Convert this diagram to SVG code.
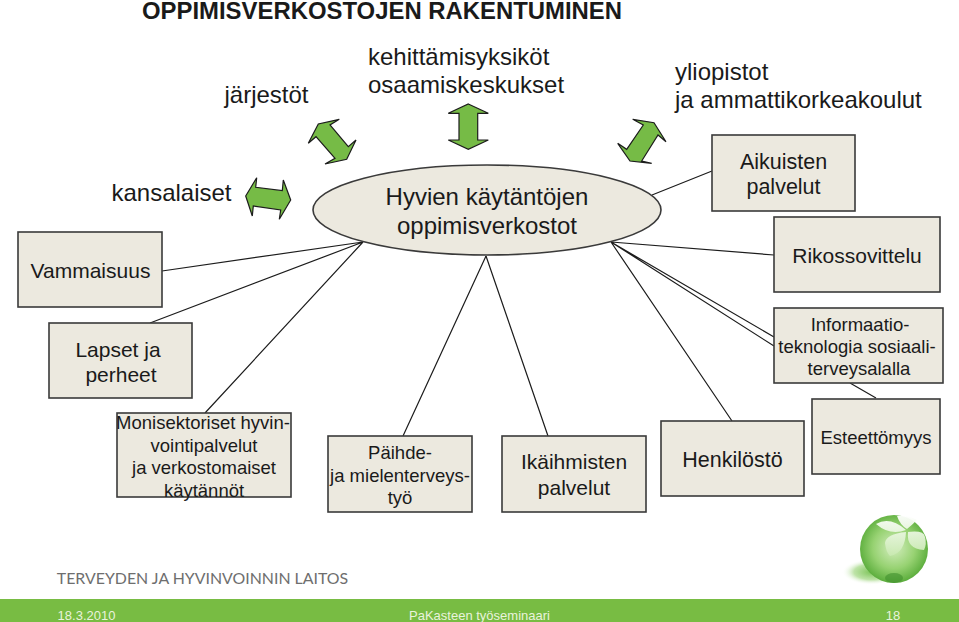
<svg xmlns="http://www.w3.org/2000/svg" width="959" height="622" viewBox="0 0 959 622">
<style>
text{font-family:"Liberation Sans",Arial,sans-serif;fill:#1a1a1a;text-anchor:middle}
.l{font-size:24px}
.st{text-anchor:start}
.m{font-size:21.500px}
.n{font-size:21px}
.s{font-size:18.500px}
.b{fill:#ECE9DF;stroke:#3a3a3a;stroke-width:1.6}
.a{fill:#76BB46;stroke:#1c1c1c;stroke-width:1.2}
.c{fill:none;stroke:#1c1c1c;stroke-width:1.2}
.f{font-size:13px;fill:#E9F3DC}
</style>
<defs>
<radialGradient id="g" cx="0.5" cy="0.48" r="0.56"><stop offset="0" stop-color="#D3EDBE"/><stop offset="0.55" stop-color="#97D272"/><stop offset="0.88" stop-color="#63B243"/><stop offset="1" stop-color="#4E9E33"/></radialGradient>
<radialGradient id="sh" cx="0.6" cy="0.5" r="0.5"><stop offset="0" stop-color="#7CC458"/><stop offset="0.6" stop-color="#BEE3A8"/><stop offset="1" stop-color="#fff" stop-opacity="0"/></radialGradient>
<linearGradient id="lf" x1="0.5" y1="0" x2="0.5" y2="1"><stop offset="0" stop-color="#fff"/><stop offset="1" stop-color="#C8E9B0"/></linearGradient>
</defs>
<rect width="959" height="622" fill="#fff"/>
<g id="connectors">
<path class="c" d="M162 271L363 242M150 323L363 242M205 413L363 242M403 436L486 256M548 436L486 256M732 421L611 242M774 337L611 242M774 346L611 242M774 255L611 242M712 171L652 195M850 383L876 398"/>
</g>
<g id="arrows">
<path id="arrow-left" class="a" d="M245.700 196L256.700 177.700L255.700 187.300L282.300 190.700L283.300 180L290.700 200L279.300 219.300L280.700 210L253.300 206L252.300 216Z"/>
<path id="arrow-upleft" class="a" d="M308.300 143.300L318.300 124L339.300 119.300L330 125L348.300 146.700L356 140L346.700 159.300L325 164L335 158.300L316 136.700Z"/>
<path id="arrow-up" class="a" d="M468.300 104L488.300 113.300L477.700 113.300L477.700 140L488.300 140L468.300 149.300L448.300 140L459 140L459 113.300L448.300 113.300Z"/>
<path id="arrow-upright" class="a" d="M632.700 119.300L654 122.700L666 141.700L658 135L641.700 161L651.700 163.300L630 161L617.700 143.300L626.700 149.300L643.300 125Z"/>
</g>
<g id="node-center"><ellipse cx="487" cy="210" rx="174" ry="45" class="b"/><text class="l" x="487" y="205">Hyvien käytäntöjen</text><text class="l" x="487" y="234">oppimisverkostot</text></g>
<g id="node-aikuisten"><rect class="b" x="712" y="135" width="143" height="76"/><text class="m" x="783.500" y="169">Aikuisten</text><text class="m" x="783.500" y="194">palvelut</text></g>
<g id="node-rikos"><rect class="b" x="774" y="217" width="166" height="75"/><text class="n" x="857" y="263">Rikossovittelu</text></g>
<g id="node-vammaisuus"><rect class="b" x="18" y="232" width="144" height="75"/><text class="n" x="90.500" y="278">Vammaisuus</text></g>
<g id="node-lapset"><rect class="b" x="49" y="323" width="143" height="75"/><text class="n" x="118" y="357">Lapset ja</text><text class="n" x="121" y="382">perheet</text></g>
<g id="node-info"><rect class="b" x="774" y="308" width="169" height="75"/><text class="s" x="860" y="331">Informaatio-</text><text class="s" x="857" y="353">teknologia sosiaali-</text><text class="s" x="859" y="375">terveysalalla</text></g>
<g id="node-monisektoriset"><rect class="b" x="117" y="413" width="174" height="84"/><text class="s" x="203" y="429">Monisektoriset hyvin-</text><text class="s" x="204" y="452">vointipalvelut</text><text class="s" x="204" y="474">ja verkostomaiset</text><text class="s" x="204" y="497">käytännöt</text></g>
<g id="node-paihde"><rect class="b" x="328" y="436" width="144" height="76"/><text class="s" x="400" y="459">Päihde-</text><text class="s" x="400" y="482">ja mielenterveys-</text><text class="s" x="400" y="504">työ</text></g>
<g id="node-ikaihmisten"><rect class="b" x="502" y="436" width="144" height="76"/><text class="n" x="574" y="469">Ikäihmisten</text><text class="n" x="574" y="495">palvelut</text></g>
<g id="node-henkilosto"><rect class="b" x="661" y="421" width="143" height="75"/><text class="m" x="732.500" y="467">Henkilöstö</text></g>
<g id="node-esteettomyys"><rect class="b" x="812" y="399" width="128" height="75"/><text class="s" x="876" y="444">Esteettömyys</text></g>
<g id="labels">
<text x="382" y="19" style="font-size:23.900px;font-weight:bold">OPPIMISVERKOSTOJEN RAKENTUMINEN</text>
<text class="l" x="266.500" y="103">järjestöt</text>
<text class="l st" x="368" y="65">kehittämisyksiköt</text>
<text class="l st" x="368" y="93">osaamiskeskukset</text>
<text class="l st" x="675" y="80">yliopistot</text>
<text class="l st" x="675" y="108">ja ammattikorkeakoulut</text>
<text class="l" x="171.500" y="201">kansalaiset</text>
</g>
<g id="logo">
<ellipse cx="866" cy="572" rx="30" ry="13" fill="url(#sh)"/>
<circle cx="894" cy="549" r="34" fill="url(#g)"/>
<ellipse cx="894" cy="578" rx="9" ry="5" fill="#3F8F2D" opacity="0.6"/>
<path fill="url(#lf)" opacity="0.95" d="M876 524Q890 516 906 530Q890 536 876 524ZM906 532Q886 534 885 543Q886 552 890 556Q905 553 906 532ZM908 532Q924 530 925 537Q927 544 924 550Q906 549 908 532ZM897 516Q906 514 917 520Q912 525 907 529Q900 525 897 516Z"/>
</g>
<text x="202.500" y="584" style="font-family:'Lato',sans-serif;font-size:15.900px;fill:#6e6e6e">TERVEYDEN JA HYVINVOINNIN LAITOS</text>
<rect id="footer" x="0" y="599" width="959" height="23" fill="#78BC43"/>
<text class="f" x="86.500" y="620">18.3.2010</text>
<text class="f" x="479.500" y="620">PaKasteen työseminaari</text>
<text class="f" x="893" y="620">18</text>
</svg>
